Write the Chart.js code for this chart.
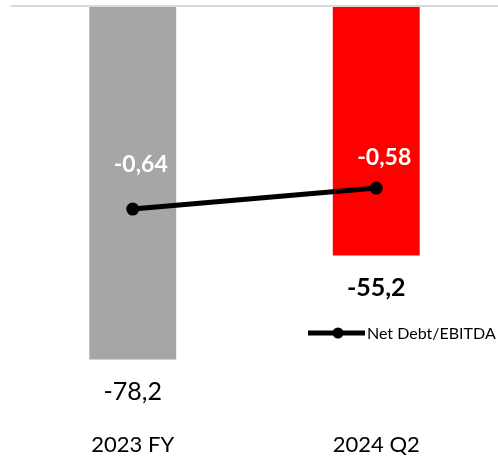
<!DOCTYPE html>
<html>
<head>
<meta charset="utf-8">
<script src="https://cdn.jsdelivr.net/npm/chart.js@4.4.1/dist/chart.umd.min.js"></script>
<style>
  html, body { margin: 0; padding: 0; background: #fff; }
  #wrap { width: 498px; height: 459px; }
</style>
</head>
<body>
<div id="wrap"><canvas id="grafica"></canvas></div>
<script>
// datos
const periodos = ["2023 FY", "2024 Q2"];
const deudaNeta = [-78.2, -55.2];
const deudaEbitda = [-0.64, -0.58];
const coloresBarras = ["#a6a6a6", "#ff0000"];

const fuente = "Lato, 'Open Sans', sans-serif";

// formato con coma decimal
function formato(v, dec) {
  return v.toFixed(dec).replace(".", ",");
}

// etiquetas de valores y leyenda propia
const etiquetas = {
  id: "etiquetas",
  afterDatasetsDraw(chart) {
    const ctx = chart.ctx;
    ctx.save();
    ctx.textAlign = "center";
    ctx.textBaseline = "middle";

    // valores de las barras, debajo de cada barra
    const metaBarras = chart.getDatasetMeta(0);
    metaBarras.data.forEach((bar, i) => {
      ctx.fillStyle = "#000";
      ctx.font = (i === 1 ? "bold " : "") + "25px " + fuente;
      ctx.fillText(formato(deudaNeta[i], 1), bar.x, bar.y + 32);
    });

    // valores de la linea, en blanco sobre las barras
    const desplaz = [-44, -30];
    const metaLinea = chart.getDatasetMeta(1);
    metaLinea.data.forEach((p, i) => {
      ctx.fillStyle = "#fff";
      ctx.font = "bold 23px " + fuente;
      ctx.fillText(formato(deudaEbitda[i], 2), p.x + 8, p.y + desplaz[i]);
    });

    // leyenda
    const ds = chart.data.datasets[1];
    const lx = 308, ly = 333;
    ctx.strokeStyle = "#000";
    ctx.lineWidth = 5;
    ctx.beginPath();
    ctx.moveTo(lx, ly);
    ctx.lineTo(lx + 57, ly);
    ctx.stroke();
    ctx.fillStyle = "#000";
    ctx.beginPath();
    ctx.arc(lx + 30, ly, 5.5, 0, Math.PI * 2);
    ctx.fill();
    ctx.textAlign = "left";
    ctx.font = "16px " + fuente;
    ctx.fillText(ds.label, lx + 59, ly + 1);
    ctx.restore();
  }
};

new Chart(document.getElementById("grafica"), {
  data: {
    labels: periodos,
    datasets: [
      {
        type: "bar",
        label: "Net Debt",
        data: deudaNeta,
        backgroundColor: coloresBarras,
        categoryPercentage: 0.357,
        barPercentage: 1,
        yAxisID: "y",
        order: 1
      },
      {
        type: "line",
        label: "Net Debt/EBITDA",
        data: deudaEbitda,
        borderColor: "#000",
        backgroundColor: "#000",
        borderWidth: 5,
        pointRadius: 6.5,
        pointBackgroundColor: "#000",
        pointBorderWidth: 0,
        yAxisID: "y2",
        order: 0
      }
    ]
  },
  options: {
    responsive: true,
    maintainAspectRatio: false,
    animation: false,
    layout: { autoPadding: false, padding: { left: 11, right: 0, top: 6, bottom: 0 } },
    plugins: {
      legend: { display: false },
      tooltip: { enabled: false }
    },
    scales: {
      x: {
        grid: { display: false, drawTicks: false },
        border: { display: false },
        ticks: {
          color: "#000",
          font: { family: fuente, size: 22, lineHeight: 1 },
          padding: 3
        }
      },
      y: {
        min: -94,
        max: 0,
        border: { display: false },
        ticks: { display: false },
        grid: {
          drawTicks: false,
          lineWidth: 2,
          color: (c) => (c.tick && c.tick.value === 0 ? "#d9d9d9" : "rgba(0,0,0,0)")
        }
      },
      y2: {
        display: false,
        min: -1.274,
        max: -0.06
      }
    }
  },
  plugins: [etiquetas]
});
</script>
</body>
</html>
